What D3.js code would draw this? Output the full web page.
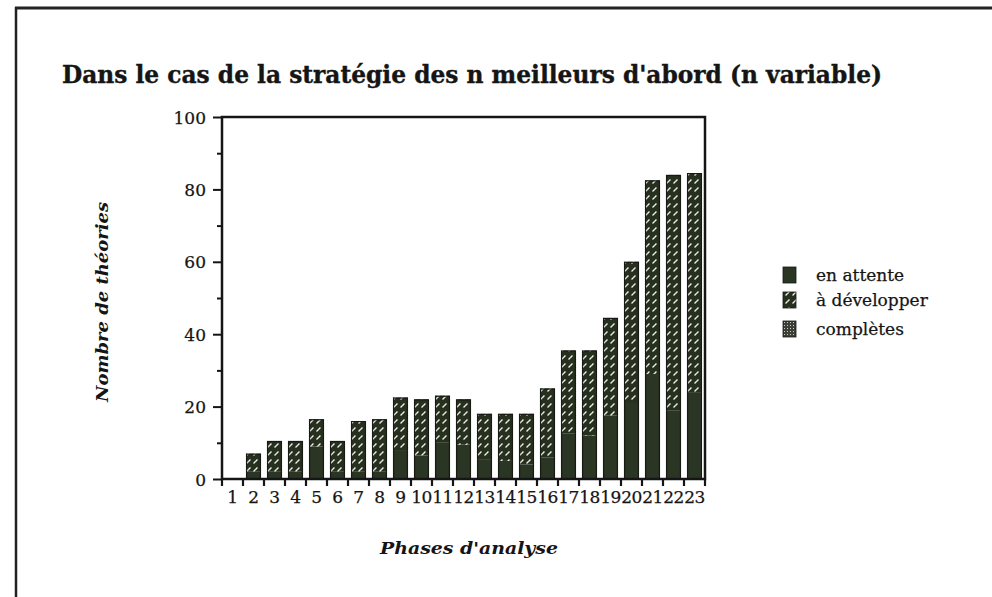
<!DOCTYPE html>
<html>
<head>
<meta charset="utf-8">
<script src="https://cdn.jsdelivr.net/npm/d3@7"></script>
<style>
  html, body { margin: 0; padding: 0; background: #fff; }
  svg { display: block; }
  text { font-family: "DejaVu Serif", "Liberation Serif", serif; fill: #151515; }
</style>
</head>
<body>
<svg id="chart" width="992" height="597"></svg>
<script>
// Phases d'analyse (x categories)
const phases = ["1","2","3","4","5","6","7","8","9","10","11","12","13","14","15","16","17","18","19","20","21","22","23"];
// Théories en attente (bottom segment)
const enAttente = [0, 2, 2, 2, 9, 2, 2, 2, 8, 6.5, 10, 9.5, 5.5, 5, 4, 6, 12.5, 12, 17.5, 21, 29, 19, 24];
// Théories à développer (middle segment)
const aDevelopper = [0, 5, 8.5, 8.5, 7.5, 8.5, 14, 14.5, 14.5, 15.5, 13, 12.5, 12.5, 13, 14, 19, 23, 23.5, 27, 39, 53.5, 65, 60.5];
// Théories complètes (top segment)
const completes = [0, 0, 0, 0, 0, 0, 0, 0, 0, 0, 0, 0, 0, 0, 0, 0, 0, 0, 0, 0, 0, 0, 0];
const yTicks = [0, 20, 40, 60, 80, 100];
const seriesNames = ["en attente", "à développer", "complètes"];

const svg = d3.select("#chart");

// Fill patterns
const defs = svg.append("defs");
const dark = "#27301f";
const pDev = defs.append("pattern").attr("id", "pat-dev")
  .attr("patternUnits", "userSpaceOnUse").attr("width", 7).attr("height", 8);
pDev.append("rect").attr("width", 7).attr("height", 8).attr("fill", dark);
pDev.append("path").attr("d", "M2,7 L3,6 M4,5 L5,4")
  .attr("stroke", "#f4f4ee").attr("stroke-width", 1.3).attr("stroke-linecap", "square");
const pComp = defs.append("pattern").attr("id", "pat-comp")
  .attr("patternUnits", "userSpaceOnUse").attr("width", 3).attr("height", 3);
pComp.append("rect").attr("width", 3).attr("height", 3).attr("fill", "#3a4036");
pComp.append("rect").attr("x", 1).attr("y", 1).attr("width", 1).attr("height", 1).attr("fill", "#c9cbc4");

const fills = ["#2b3524", "url(#pat-dev)", "url(#pat-comp)"];

// Page frame
svg.append("line").attr("x1", 15).attr("x2", 992).attr("y1", 8).attr("y2", 8)
  .attr("stroke", "#222").attr("stroke-width", 3);
svg.append("line").attr("x1", 16).attr("x2", 16).attr("y1", 7).attr("y2", 597)
  .attr("stroke", "#222").attr("stroke-width", 2.5);

// Title
svg.append("text").attr("x", 62).attr("y", 83)
  .attr("font-size", 25).attr("font-weight", "bold")
  .attr("stroke", "#151515").attr("stroke-width", 0.4)
  .attr("textLength", 820).attr("lengthAdjust", "spacingAndGlyphs")
  .text("Dans le cas de la stratégie des n meilleurs d'abord (n variable)");

const plot = { left: 222, right: 705, top: 117, bottom: 479 };

const x = d3.scaleBand().domain(phases).range([plot.left, plot.right]).paddingInner(0.29).paddingOuter(0.145);
const xStep = d3.scaleBand().domain(phases).range([plot.left, plot.right]);
const y = d3.scaleLinear().domain([0, 100]).range([plot.bottom, plot.top]);

// Stacked data
const rows = phases.map((p, i) => ({ phase: p, "en attente": enAttente[i], "à développer": aDevelopper[i], "complètes": completes[i] }));
const stack = d3.stack().keys(seriesNames)(rows);

const g = svg.append("g");
stack.forEach((layer, k) => {
  g.selectAll(null).data(layer).join("rect")
    .attr("x", d => x(d.data.phase))
    .attr("width", x.bandwidth())
    .attr("y", d => y(d[1]))
    .attr("height", d => Math.max(0, y(d[0]) - y(d[1])))
    .attr("fill", fills[k]);
});
// Bar outlines
g.selectAll(null).data(rows.filter((d, i) => enAttente[i] + aDevelopper[i] + completes[i] > 0)).join("rect")
  .attr("x", d => x(d.phase) + 0.5)
  .attr("width", x.bandwidth() - 1)
  .attr("y", d => y(d["en attente"] + d["à développer"] + d["complètes"]) + 0.5)
  .attr("height", d => y(0) - y(d["en attente"] + d["à développer"] + d["complètes"]) - 0.5)
  .attr("fill", "none").attr("stroke", "#151a12").attr("stroke-width", 1.2);

// Y axis: major ticks with labels, minor ticks between
const yAxis = d3.axisLeft(y).tickValues(yTicks).tickSize(9).tickPadding(7).tickFormat(d3.format("d"));
const yg = svg.append("g").attr("transform", `translate(${plot.left},0)`).call(yAxis);
yg.select(".domain").remove();
yg.selectAll(".tick line").attr("stroke", "#151515").attr("stroke-width", 2);
yg.selectAll(".tick text").attr("font-size", 17).attr("font-family", "DejaVu Serif, serif").attr("fill", "#151515")
  .attr("stroke", "#151515").attr("stroke-width", 0.25).attr("dy", "0.36em");
const yMinor = d3.axisLeft(y).tickValues([10, 30, 50, 70, 90]).tickSize(5).tickFormat("");
const ymg = svg.append("g").attr("transform", `translate(${plot.left},0)`).call(yMinor);
ymg.select(".domain").remove();
ymg.selectAll(".tick line").attr("stroke", "#151515").attr("stroke-width", 2);

// X axis: ticks at category boundaries, labels centered
const boundaries = phases.map(p => xStep(p)).concat([plot.right]);
svg.append("g").selectAll("line").data(boundaries).join("line")
  .attr("x1", d => d).attr("x2", d => d)
  .attr("y1", plot.bottom).attr("y2", plot.bottom + 7)
  .attr("stroke", "#151515").attr("stroke-width", 2.2);
const xAxis = d3.axisBottom(xStep).tickSize(0).tickPadding(12);
const xg = svg.append("g").attr("transform", `translate(0,${plot.bottom})`).call(xAxis);
xg.select(".domain").remove();
xg.selectAll(".tick text").attr("font-size", 17).attr("font-family", "DejaVu Serif, serif").attr("fill", "#151515")
  .attr("stroke", "#151515").attr("stroke-width", 0.25).attr("letter-spacing", "-0.5");

// Plot frame
svg.append("rect").attr("x", plot.left).attr("y", plot.top)
  .attr("width", plot.right - plot.left).attr("height", plot.bottom - plot.top)
  .attr("fill", "none").attr("stroke", "#151515").attr("stroke-width", 2.5);

// Axis titles
svg.append("text").attr("transform", `translate(108,302) rotate(-90)`)
  .attr("text-anchor", "middle").attr("font-size", 17).attr("font-weight", "bold").attr("font-style", "italic")
  .attr("textLength", 200).attr("lengthAdjust", "spacingAndGlyphs")
  .text("Nombre de théories");
svg.append("text").attr("x", 469).attr("y", 554)
  .attr("text-anchor", "middle").attr("font-size", 17).attr("font-weight", "bold").attr("font-style", "italic")
  .attr("textLength", 178).attr("lengthAdjust", "spacingAndGlyphs")
  .text("Phases d'analyse");

// Legend
const legend = svg.append("g");
const legendY = [267, 292, 321];
seriesNames.forEach((name, i) => {
  legend.append("rect").attr("x", 783).attr("y", legendY[i]).attr("width", 13).attr("height", 16)
    .attr("fill", fills[i]).attr("stroke", "#151a12").attr("stroke-width", 0.8);
  legend.append("text").attr("x", 816).attr("y", legendY[i] + 14).attr("font-size", 17)
    .attr("stroke", "#151515").attr("stroke-width", 0.25).text(name);
});
</script>
</body>
</html>
